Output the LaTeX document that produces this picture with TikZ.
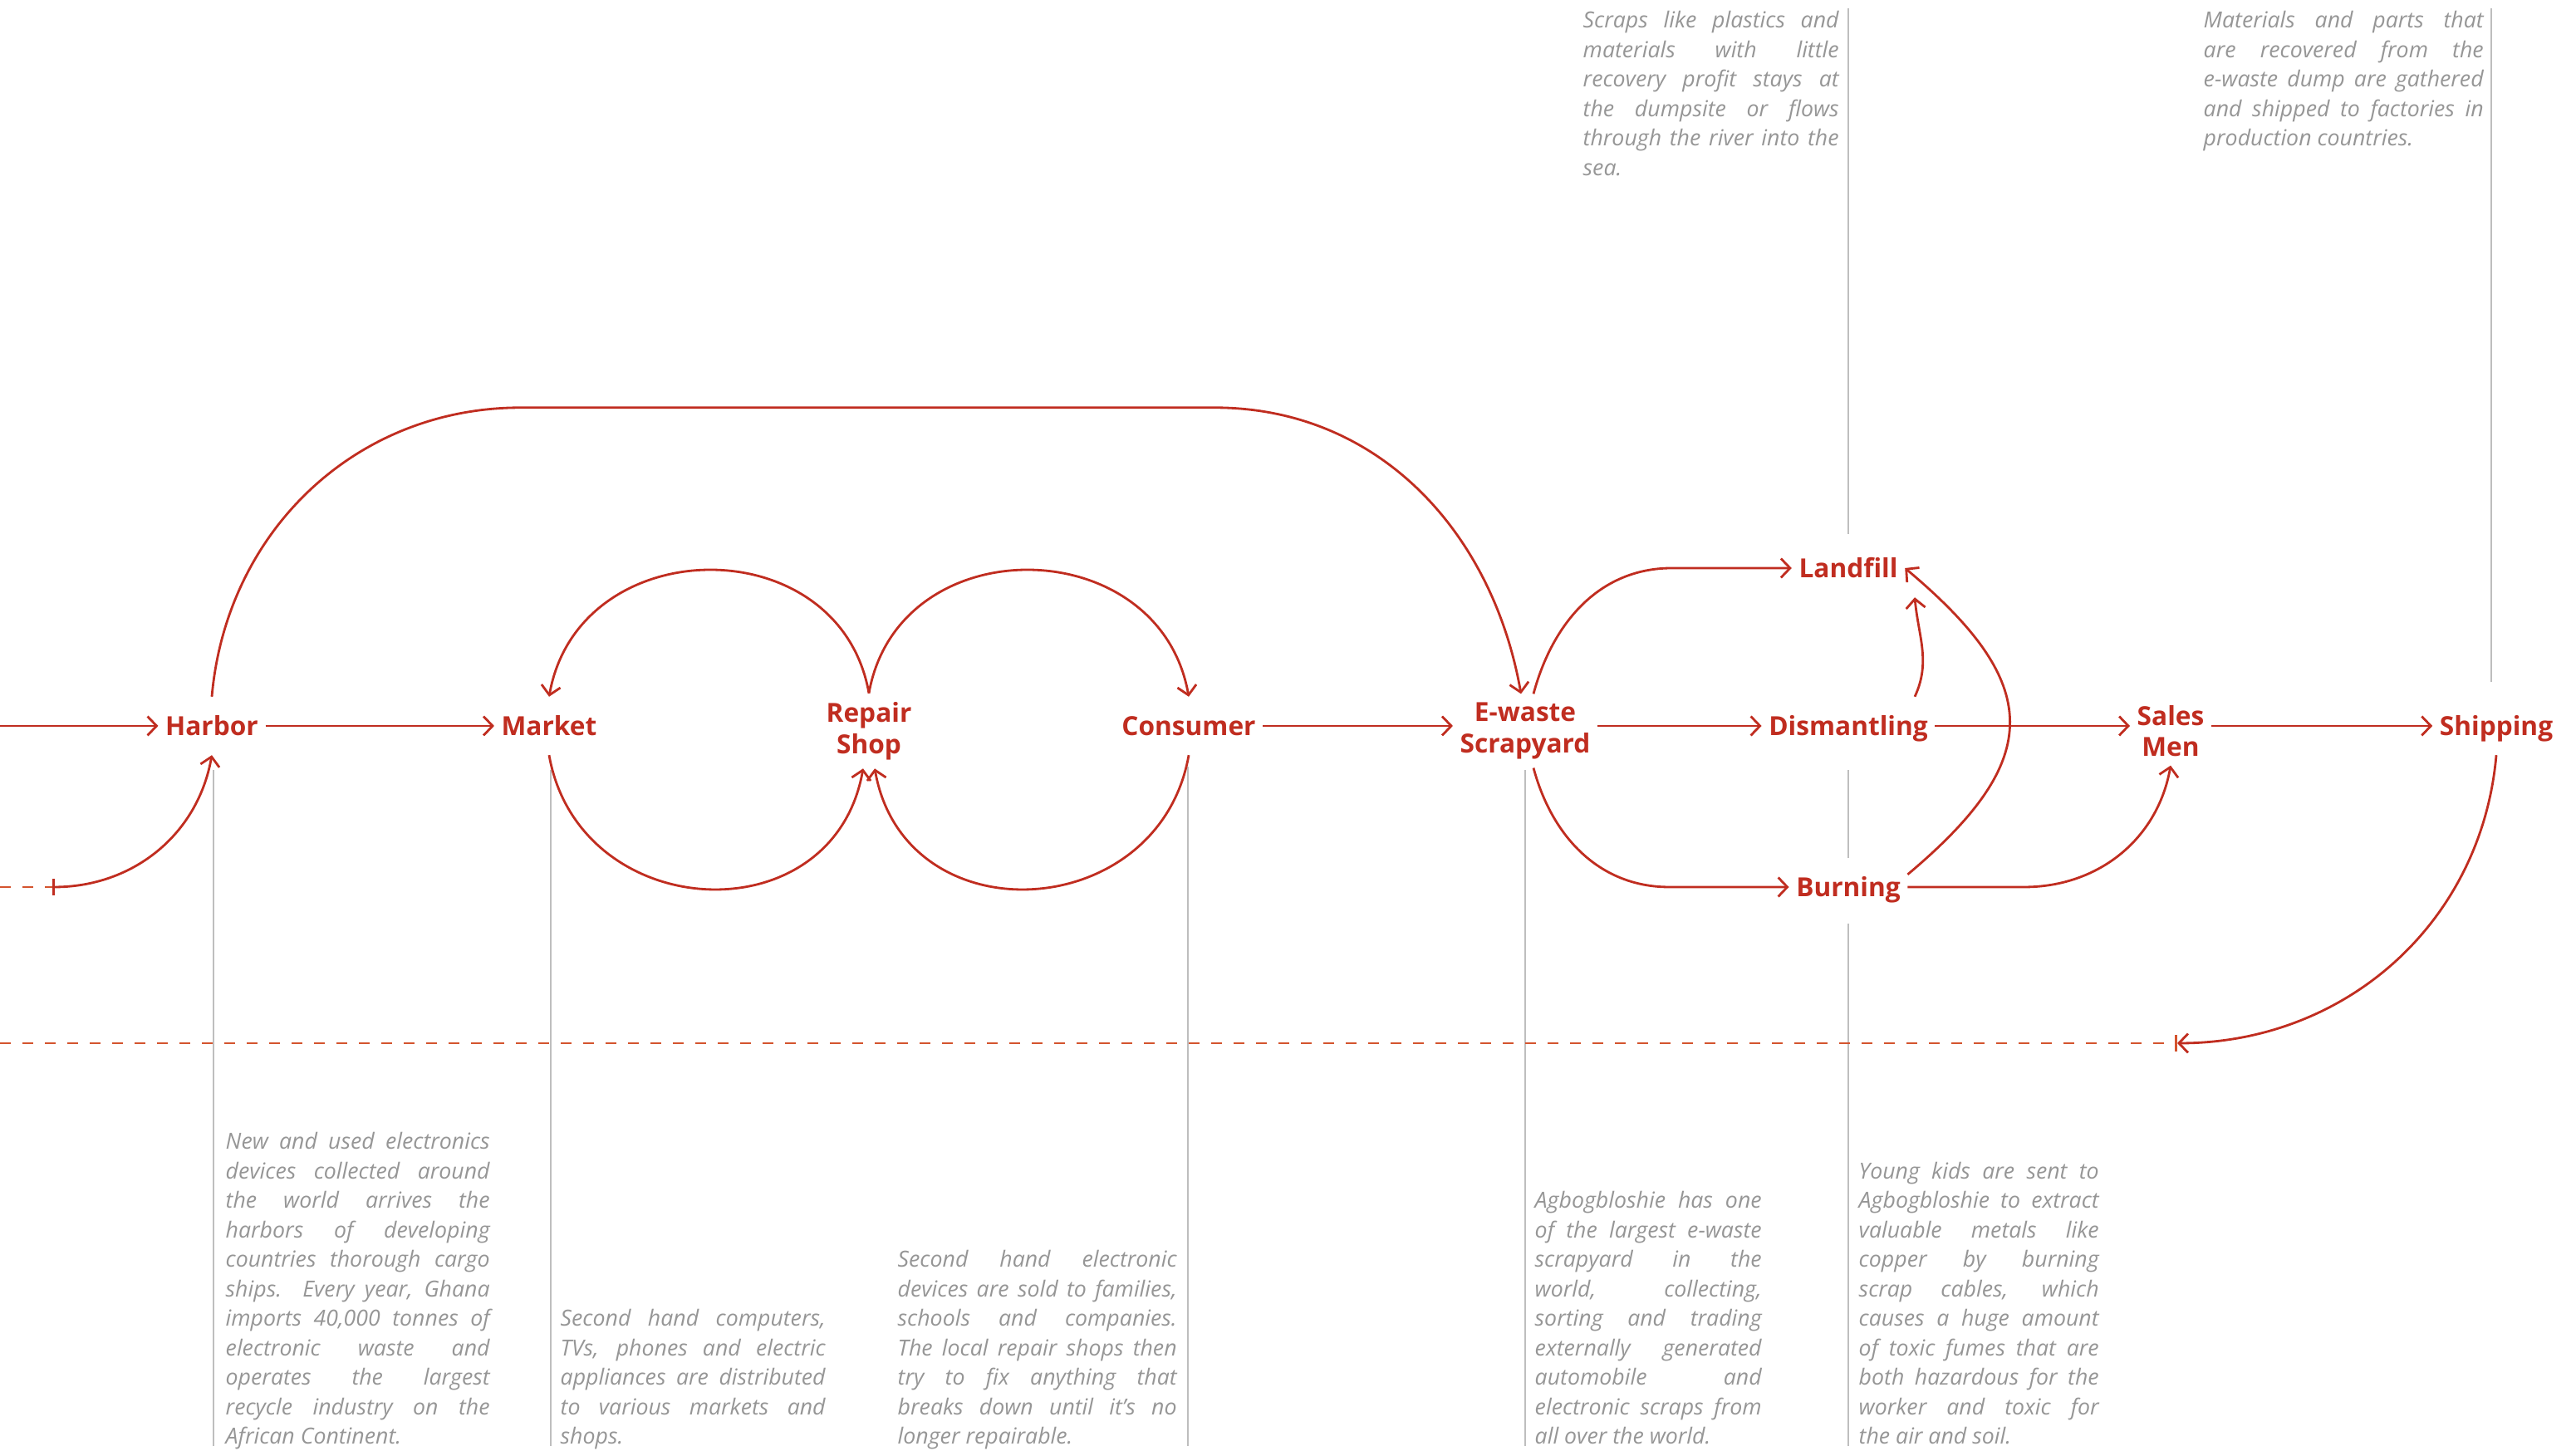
\documentclass[tikz,border=0pt]{standalone}
\usepackage{fontspec}
\setmainfont{Open Sans}
\usetikzlibrary{arrows.meta}
\definecolor{ewred}{RGB}{192,45,32}
\definecolor{ewdash}{RGB}{212,84,46}
\definecolor{notegray}{RGB}{150,150,150}
\definecolor{rulegray}{RGB}{190,190,190}

\begin{document}
\begin{tikzpicture}[auto,>={Straight Barb[length=1.1mm,width=2.3mm]}]
    \tikzstyle{stage}=[text=ewred,font=\fontsize{9}{10.7}\selectfont\bfseries,inner xsep=0.8mm,inner ysep=2.2mm,text height=2.4mm,text depth=0.1mm]
    \tikzstyle{stagetwo}=[text=ewred,font=\fontsize{9}{10.7}\selectfont\bfseries,inner xsep=0.8mm,align=center,inner ysep=1mm]
    \tikzstyle{note}=[text=notegray,font=\fontsize{7.6}{10.1}\selectfont\itshape,inner sep=0pt,align=justify,
        execute at begin node={\tolerance=10000\hbadness=10000\hyphenpenalty=10000\strut},execute at end node=\strut]
    \tikzstyle{flow}=[ewred,line width=0.8pt,->]
    \tikzstyle{ret}=[ewdash,line width=0.8pt,dash pattern=on 1.3mm off 1.4mm]
    \tikzstyle{rule}=[rulegray,line width=0.6pt]
    \useasboundingbox (0,0) rectangle (31.01,17.53);
    % stages
    \node (harbor)    at (2.55,8.79)  [stage] {Harbor};
    \node (market)    at (6.61,8.79)  [stage] {Market};
    \node (repair)    at (10.46,8.73) [stagetwo] {Repair\\Shop};
    \node (consumer)  at (14.31,8.79) [stage] {Consumer};
    \node (scrap)     at (18.36,8.73) [stagetwo] {E-waste\\Scrapyard};
    \node (dismantle) at (22.25,8.79) [stage] {Dismantling};
    \node (landfill)  at (22.25,10.69) [stage] {Landfill};
    \node (burning)   at (22.25,6.85) [stage] {Burning};
    \node (sales)     at (26.13,8.73) [stagetwo] {Sales\\Men};
    \node (shipping)  at (30.05,8.79) [stage] {Shipping};
    \coordinate (entry) at (0,8.79);
    \coordinate (stubL) at (0,6.85);
    \coordinate (stub)  at (0.63,6.85);
    \coordinate (retL)  at (0,4.97);
    \coordinate (retR)  at (26.21,4.97);
    % notes
    \node (harbornote)   at (2.71,0.03)  [note,anchor=south west,text width=3.18cm] {New and used electronics\linebreak devices collected around\linebreak the world arrives the\linebreak harbors of developing\linebreak countries thorough cargo\linebreak ships. Every year, Ghana\linebreak imports 40,000 tonnes of\linebreak electronic waste and\linebreak operates the largest\linebreak recycle industry on the\linebreak African Continent.};
    \node (marketnote)   at (6.74,0.03)  [note,anchor=south west,text width=3.19cm] {Second hand computers,\linebreak TVs, phones and electric\linebreak appliances are distributed\linebreak to various markets and\linebreak shops.};
    \node (consumernote) at (10.80,0.03) [note,anchor=south west,text width=3.36cm] {Second hand electronic\linebreak devices are sold to families,\linebreak schools and companies.\linebreak The local repair shops then\linebreak try to fix anything that\linebreak breaks down until it’s no\linebreak longer repairable.};
    \node (scrapnote)    at (18.47,0.03) [note,anchor=south west,text width=2.73cm] {Agbogbloshie has one\linebreak of the largest e-waste\linebreak scrapyard in the\linebreak world, collecting,\linebreak sorting and trading\linebreak externally generated\linebreak automobile and\linebreak electronic scraps from\linebreak all over the world.};
    \node (burningnote)  at (22.37,0.03) [note,anchor=south west,text width=2.89cm] {Young kids are sent to\linebreak Agbogbloshie to extract\linebreak valuable metals like\linebreak copper by burning\linebreak scrap cables, which\linebreak causes a huge amount\linebreak of toxic fumes that are\linebreak both hazardous for the\linebreak worker and toxic for\linebreak the air and soil.};
    \node (landfillnote) at (19.05,17.45) [note,anchor=north west,text width=3.08cm] {Scraps like plastics and\linebreak materials with little\linebreak recovery profit stays at\linebreak the dumpsite or flows\linebreak through the river into the\linebreak sea.};
    \node (shippingnote) at (26.52,17.45) [note,anchor=north west,text width=3.37cm] {Materials and parts that\linebreak are recovered from the\linebreak e-waste dump are gathered\linebreak and shipped to factories in\linebreak production countries.};
    % grey rules
    \draw [rule] (2.57,8.26) -- (2.57,0.12);
    \draw [rule] (6.63,8.26) -- (6.63,0.12);
    \draw [rule] (14.30,8.30) -- (14.30,0.12);
    \draw [rule] (18.36,8.26) -- (18.36,0.12);
    \draw [rule] (22.25,8.26) -- (22.25,7.20);
    \draw [rule] (22.25,6.41) -- (22.25,0.12);
    \draw [rule] (22.25,17.43) -- (22.25,11.10);
    \draw [rule] (29.99,17.43) -- (29.99,9.32);
    % main flow
    \draw [flow] (entry) -- (harbor);
    \draw [flow] (harbor) -- (market);
    \draw [flow] (consumer.east) -- (consumer.east -| scrap.west);
    \draw [flow] (scrap.east |- dismantle) -- (dismantle.west);
    \draw [flow] (dismantle.east) -- (dismantle.east -| sales.west);
    \draw [flow] (sales.east |- shipping) -- (shipping.west);
    \draw [flow] (harbor.north) to [out=85,in=180] ++(3.72,3.48) -- ++(8.35,0) to [out=0,in=100] ([xshift=-0.5mm]scrap.north);
    % loops round the repair shop
    \draw [flow] (repair.north) to [out=100,in=80,looseness=1.35] (market.north);
    \draw [flow] (market.south) to [out=-80,in=-100,looseness=1.4] ([xshift=-0.7mm]repair.south);
    \draw [flow] (repair.north) to [out=80,in=100,looseness=1.35] (consumer.north);
    \draw [flow] (consumer.south) to [out=-100,in=-80,looseness=1.4] ([xshift=0.7mm]repair.south);
    % scrapyard branches
    \draw [flow,<-] (landfill.west) -- ++(-1.44,0) to [out=180,in=75] ([xshift=1mm]scrap.north);
    \draw [flow,<-] (burning.west) -- ++(-1.44,0) to [out=180,in=-75] ([xshift=1mm]scrap.south);
    \draw [flow] ([xshift=8mm]dismantle.north) to [out=65,in=-85] ([xshift=8mm]landfill.south);
    \draw [flow] (burning.12) to [out=40,in=-40,looseness=1.5] (landfill.east);
    \draw [flow] (burning.east) -- ++(1.4,0) to [out=0,in=-100] (sales.south);
    % return lines
    \draw [ret] (stubL) -- (stub);
    \draw [flow,{Bar[width=2mm]}->] (stub) to [out=0,in=-100] (harbor.south);
    \draw [ret,-{Bar[width=2mm]}] (retL) -- (retR);
    \draw [flow] (shipping.south) to [out=-95,in=0] (retR);
\end{tikzpicture}
\end{document}
